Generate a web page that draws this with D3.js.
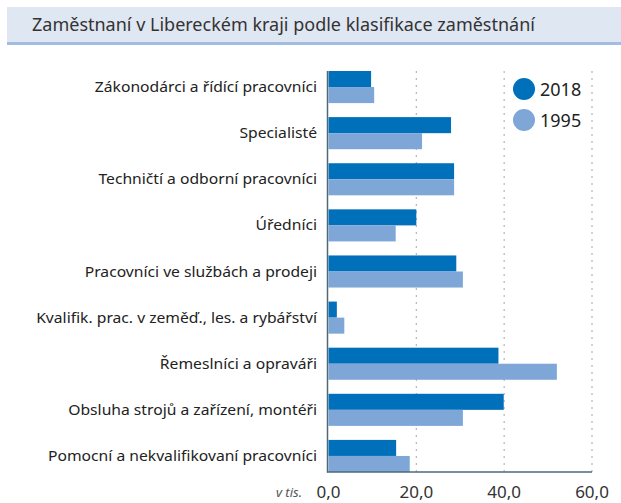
<!DOCTYPE html>
<html>
<head>
<meta charset="utf-8">
<script src="https://cdn.jsdelivr.net/npm/d3@7"></script>
<style>
  body { margin: 0; background: #fff; }
  svg { display: block; font-family: "Noto Sans", "DejaVu Sans", sans-serif; }
</style>
</head>
<body>
<svg id="chart" width="621" height="503"></svg>
<script>
// data
const categories = [
  "Zákonodárci a řídící pracovníci",
  "Specialisté",
  "Techničtí a odborní pracovníci",
  "Úředníci",
  "Pracovníci ve službách a prodeji",
  "Kvalifik. prac. v zeměď., les. a rybářství",
  "Řemeslníci a opraváři",
  "Obsluha strojů a zařízení, montéři",
  "Pomocní a nekvalifikovaní pracovníci"
];
const series = ["2018", "1995"];
const values2018 = [9.7, 27.9, 28.6, 20.0, 29.1, 1.9, 38.7, 39.9, 15.4];
const values1995 = [10.4, 21.3, 28.6, 15.3, 30.6, 3.6, 52.0, 30.6, 18.5];
const xTicks = [0, 20, 40, 60];

const colors = { "2018": "#0070bb", "1995": "#7ea7d8" };

const svg = d3.select("#chart");

// title band
svg.append("rect")
  .attr("x", 7).attr("y", 7).attr("width", 614).attr("height", 36)
  .attr("fill", "#dfe7f2");
svg.append("rect")
  .attr("x", 7).attr("y", 42).attr("width", 614).attr("height", 3)
  .attr("fill", "#a3bde0");
const title = svg.append("text")
  .attr("x", 32).attr("y", 31)
  .attr("font-size", 17.5)
  .attr("fill", "#333")
  .text("Zaměstnaní v Libereckém kraji podle klasifikace zaměstnání");
// stretch to the width the title has in the original
title.attr("textLength", 503).attr("lengthAdjust", "spacingAndGlyphs");

// scales
const x = d3.scaleLinear().domain([0, 60]).range([328.5, 592]);
const y = d3.scaleBand()
  .domain(categories)
  .range([71, 472])
  .paddingInner(0.304)
  .paddingOuter(0);
const ySub = d3.scaleBand().domain(series).range([0, y.bandwidth()]);

// gridlines
svg.append("g")
  .selectAll("line")
  .data(xTicks.slice(1))
  .join("line")
  .attr("x1", d => x(d)).attr("x2", d => x(d))
  .attr("y1", 71).attr("y2", 472)
  .attr("stroke", "#b5b5b5")
  .attr("stroke-width", 1.2)
  .attr("stroke-dasharray", "2,5");

// bars
const groups = svg.append("g")
  .selectAll("g")
  .data(categories.map((c, i) => ({ c, v: { "2018": values2018[i], "1995": values1995[i] } })))
  .join("g")
  .attr("transform", d => `translate(0,${y(d.c)})`);

groups.selectAll("rect")
  .data(d => series.map(s => ({ s, v: d.v[s] })))
  .join("rect")
  .attr("x", x(0))
  .attr("y", d => ySub(d.s))
  .attr("width", d => x(d.v) - x(0))
  .attr("height", ySub.bandwidth())
  .attr("fill", d => colors[d.s]);

// category labels
const labels = svg.append("g")
  .selectAll("text")
  .data(categories)
  .join("text")
  .attr("x", 317)
  .attr("y", d => y(d) + y.bandwidth() / 2 + 5)
  .attr("text-anchor", "end")
  .attr("font-size", 14.5)
  .attr("fill", "#222")
  .text(d => d);
// the original face is wider: scale labels so the longest one spans ~269px
const longest = labels.filter(d => d === categories[8]).node().getComputedTextLength();
const k = 269 / longest;
labels.each(function () {
  const w = this.getComputedTextLength();
  d3.select(this).attr("textLength", w * k).attr("lengthAdjust", "spacingAndGlyphs");
});

// axes lines
svg.append("line")
  .attr("x1", 327.5).attr("x2", 327.5).attr("y1", 71).attr("y2", 472.5)
  .attr("stroke", "#4b6b7b").attr("stroke-width", 1.5);
svg.append("line")
  .attr("x1", 327).attr("x2", 592).attr("y1", 472).attr("y2", 472)
  .attr("stroke", "#4b6b7b").attr("stroke-width", 1.5);

// x tick labels
svg.append("g")
  .selectAll("text")
  .data(xTicks)
  .join("text")
  .attr("x", d => x(d))
  .attr("y", 498)
  .attr("text-anchor", "middle")
  .attr("font-size", 17)
  .attr("fill", "#333")
  .text(d => d3.format(".1f")(d).replace(".", ","));

svg.append("text")
  .attr("x", 302).attr("y", 497)
  .attr("text-anchor", "end")
  .attr("font-size", 13)
  .attr("font-style", "italic")
  .attr("fill", "#555")
  .text("v tis.");

// legend
const legend = svg.append("g")
  .selectAll("g")
  .data(series)
  .join("g")
  .attr("transform", (d, i) => `translate(524,${89 + i * 31})`);
legend.append("circle")
  .attr("r", 11)
  .attr("fill", d => colors[d]);
legend.append("text")
  .attr("x", 16)
  .attr("y", 7)
  .attr("font-size", 18)
  .attr("fill", "#222")
  .text(d => d);
</script>
</body>
</html>
